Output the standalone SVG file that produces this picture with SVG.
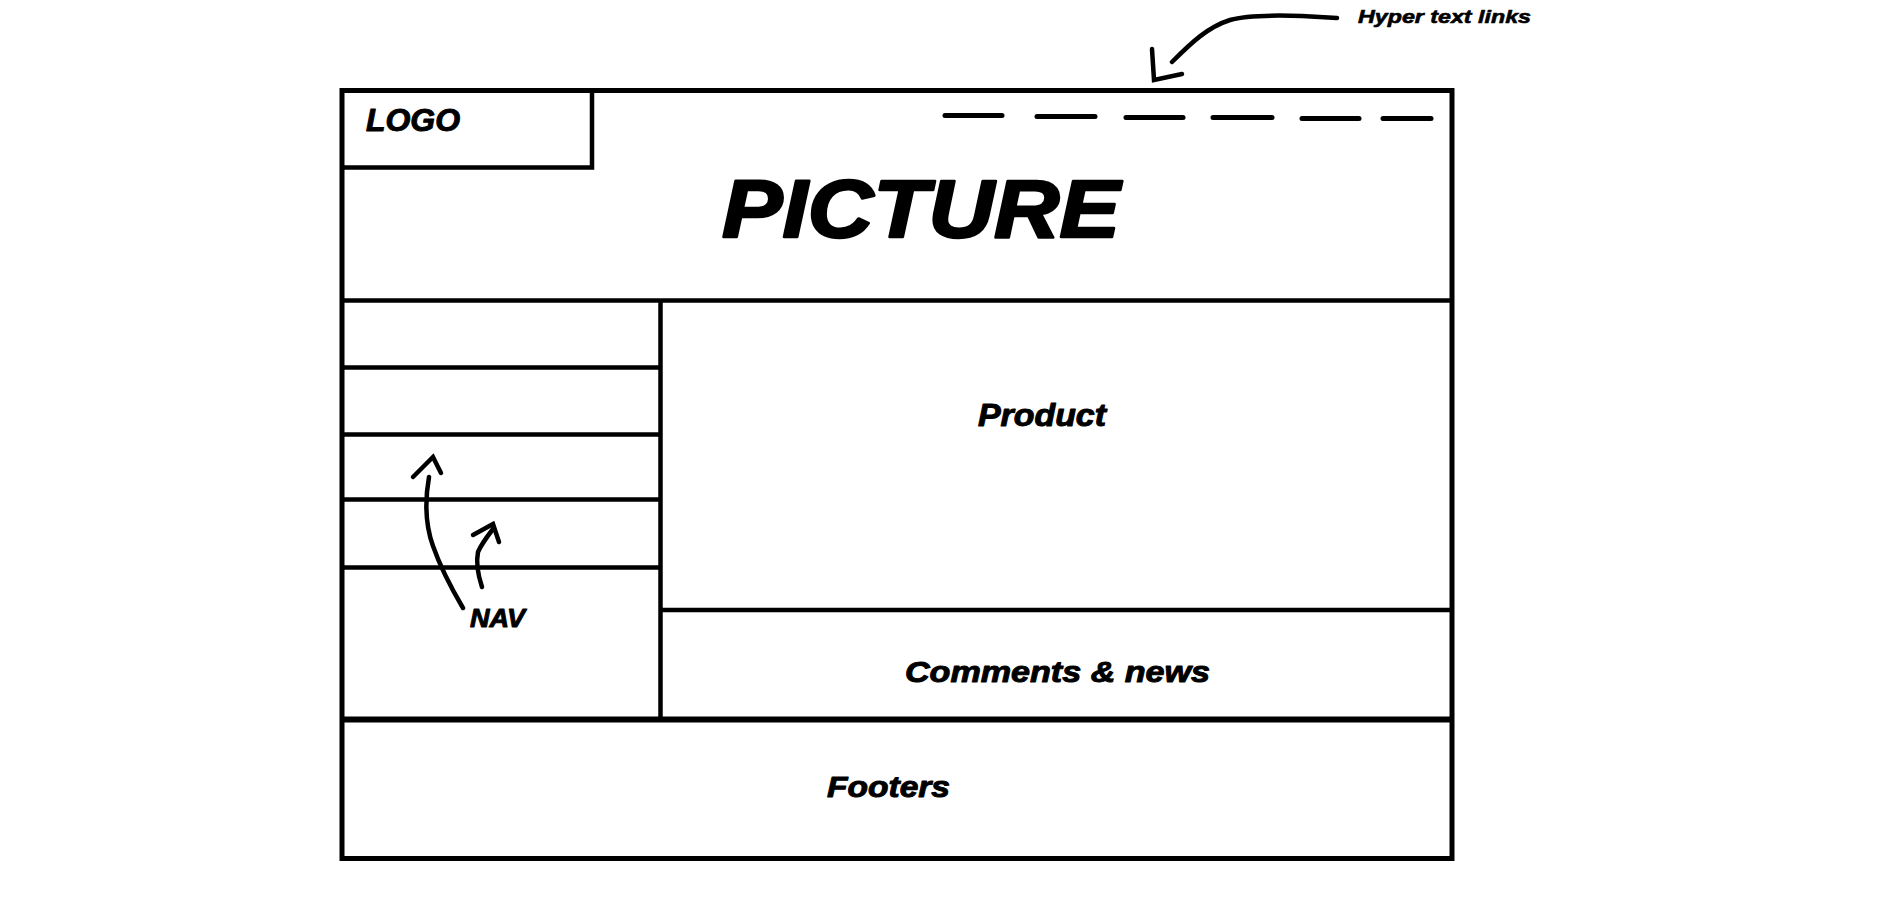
<svg xmlns="http://www.w3.org/2000/svg" width="1901" height="920" viewBox="0 0 1901 920">
  <style>
    .frame { fill: none; stroke: #000; stroke-width: 5; }
    .ln { fill: none; stroke: #000; stroke-width: 4.5; stroke-linecap: butt; }
    .dash { fill: none; stroke: #000; stroke-width: 5; stroke-linecap: round; }
    .pen { fill: none; stroke: #000; stroke-width: 4.5; stroke-linecap: round; stroke-linejoin: miter; }
    .t { font-family: "Liberation Sans", Arial, sans-serif; font-weight: bold; font-style: italic; fill: #000; stroke: #000; stroke-width: 1; stroke-linejoin: round; }
    .big { stroke-width: 2.5; }
  </style>
  <rect width="1901" height="920" fill="#fff"/>

  <g id="page">
    <rect class="frame" x="342" y="90.5" width="1110" height="768"/>
  </g>

  <g id="header">
    <line class="ln" x1="342" y1="300.5" x2="1452" y2="300.5"/>
    <text class="t big" x="722" y="237" font-size="81" textLength="398" lengthAdjust="spacingAndGlyphs">PICTURE</text>
  </g>

  <g id="logo">
    <polyline class="ln" points="342,167.5 592,167.5 592,90.5"/>
    <text class="t" x="366" y="131" font-size="31" textLength="94" lengthAdjust="spacingAndGlyphs">LOGO</text>
  </g>

  <g id="hyperlinks">
    <line class="dash" x1="945" y1="115.5" x2="1002" y2="115.5"/>
    <line class="dash" x1="1037" y1="116.5" x2="1095" y2="116.5"/>
    <line class="dash" x1="1126" y1="117.5" x2="1183" y2="117.5"/>
    <line class="dash" x1="1213" y1="117.5" x2="1272" y2="117.5"/>
    <line class="dash" x1="1302" y1="118.5" x2="1359" y2="118.5"/>
    <line class="dash" x1="1383" y1="118.5" x2="1431" y2="118.5"/>
    <text class="t" x="1358" y="23" font-size="18" textLength="173" lengthAdjust="spacingAndGlyphs" style="stroke-width:0.6">Hyper text links</text>
  </g>

  <g id="nav">
    <line class="ln" x1="660.5" y1="300.5" x2="660.5" y2="719"/>
    <line class="ln" x1="342" y1="367.5" x2="660.5" y2="367.5"/>
    <line class="ln" x1="342" y1="434.5" x2="660.5" y2="434.5"/>
    <line class="ln" x1="342" y1="499.5" x2="660.5" y2="499.5"/>
    <line class="ln" x1="342" y1="567.5" x2="660.5" y2="567.5"/>
    <text class="t" x="470" y="627" font-size="26" textLength="55" lengthAdjust="spacingAndGlyphs">NAV</text>
  </g>

  <g id="product">
    <line class="ln" x1="660.5" y1="610" x2="1452" y2="610"/>
    <text class="t" x="978" y="426" font-size="31" textLength="128" lengthAdjust="spacingAndGlyphs">Product</text>
  </g>

  <g id="comments">
    <text class="t" x="905" y="682" font-size="30" textLength="305" lengthAdjust="spacingAndGlyphs">Comments &amp; news</text>
  </g>

  <g id="footer">
    <line class="frame" x1="342" y1="719.5" x2="1452" y2="719.5" style="stroke-width:6"/>
    <text class="t" x="827" y="797" font-size="30" textLength="123" lengthAdjust="spacingAndGlyphs">Footers</text>
  </g>

  <g id="connectors">
    <path class="pen" d="M1337,18 L1302,16 C1272,15 1247,15 1230,20 C1208,27 1192,42 1172,62"/>
    <path class="pen" d="M1152,49 L1154,80 L1182,74"/>
    <path class="pen" d="M463,608 C450,586 440,566 433,546 C425,524 425,500 429,477"/>
    <path class="pen" d="M413,477 L433,457 L441,473"/>
    <path class="pen" d="M482,587 C478,575 476,562 478,552 C481,545 486,538 493,529"/>
    <path class="pen" d="M473,535 L493,524 L499,542"/>
  </g>
</svg>
